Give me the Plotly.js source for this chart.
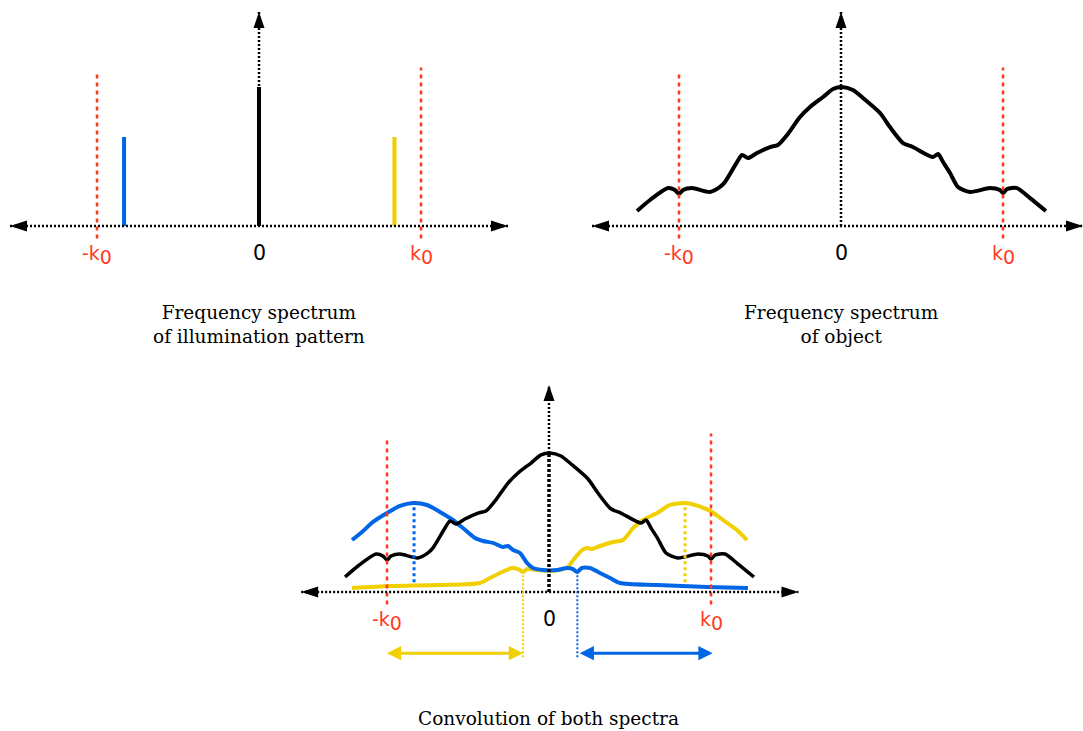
<!DOCTYPE html>
<html>
<head>
<meta charset="utf-8">
<script src="https://cdn.plot.ly/plotly-3.0.1.min.js"></script>
<style>html,body{margin:0;padding:0;background:#fff;}#chart{width:1083px;height:731px;}</style>
</head>
<body>
<div id="chart"></div>
<script>
// ---------- DATA (frequency in units of k0, amplitude relative to DC peak) ----------
// Panel 1: illumination pattern spectrum (three delta peaks)
const illumK     = [-0.833, 0, 0.836];
const illumAmp   = [0.64, 1.0, 0.64];
const illumColor = ['#0066e6', '#000000', '#f0d000'];

// Panel 2: object spectrum
const objK = [-1.259,-1.179,-1.068,-1.025,-1.0,-0.975,-0.920,-0.809,-0.747,-0.716,-0.642,-0.611,-0.574,-0.519,-0.438,-0.389,-0.333,-0.253,-0.191,-0.111,-0.049,0.006,0.074,0.136,0.241,0.302,0.383,0.444,0.568,0.599,0.630,0.673,0.722,0.796,0.920,0.981,1.0,1.025,1.086,1.167,1.265];
const objAmp = [0.108,0.187,0.273,0.259,0.230,0.259,0.273,0.245,0.281,0.317,0.460,0.511,0.489,0.525,0.568,0.583,0.655,0.784,0.856,0.928,0.986,1.0,0.978,0.921,0.813,0.712,0.597,0.568,0.496,0.518,0.460,0.381,0.281,0.245,0.273,0.259,0.237,0.266,0.273,0.201,0.108];

// Panel 3: convolution — object spectrum shifted copies
const blueK = [-1.216,-1.154,-1.086,-1.0,-0.920,-0.840,-0.753,-0.673,-0.593,-0.531,-0.457,-0.407,-0.346,-0.284,-0.253,-0.222,-0.179,-0.136,-0.099,-0.037,0.049,0.111,0.148,0.173,0.204,0.253,0.315,0.377,0.438,0.667,0.975,1.228];
const blueAmp = [0.374,0.432,0.504,0.568,0.619,0.640,0.626,0.576,0.518,0.460,0.388,0.367,0.353,0.324,0.331,0.302,0.281,0.209,0.173,0.158,0.158,0.173,0.165,0.144,0.173,0.173,0.137,0.101,0.065,0.050,0.036,0.029];
const yellowK = [-1.216,-0.981,-0.673,-0.426,-0.364,-0.302,-0.228,-0.191,-0.160,-0.136,-0.074,0.006,0.086,0.117,0.160,0.204,0.235,0.265,0.315,0.395,0.457,0.519,0.580,0.667,0.747,0.840,0.920,1.006,1.074,1.160,1.222];
const yellowAmp = [0.029,0.043,0.050,0.065,0.101,0.137,0.173,0.165,0.144,0.165,0.158,0.151,0.165,0.180,0.245,0.302,0.317,0.309,0.331,0.360,0.374,0.460,0.518,0.568,0.626,0.640,0.619,0.576,0.518,0.446,0.374];

// Markers / guides
const k0Lines     = [-1, 1];
const k0Top       = [1.108, 1.14];
const k0Bottom    = -0.09;
const tickLabels  = ['-k<sub><span style="font-size:19px">0</span></sub>', '0', 'k<sub><span style="font-size:19px">0</span></sub>'];
const tickPos     = [-1, 0, 1];
const peakK       = [-0.833, 0.84];          // dotted peak markers in panel 3
const shiftK      = [-0.16, 0.175];          // thin dotted lines in panel 3
const shiftTop    = 0.144;
const arrowY      = -0.44;
const yellowArrow = [-1.01, -0.16];
const blueArrow   = [0.18, 1.01];
const captions    = ['Frequency spectrum<br>of illumination pattern', 'Frequency spectrum<br>of object', 'Convolution of both spectra'];

// ---------- LAYOUT GEOMETRY ----------
const W = 1083, H = 731, SX = 162, SY = 139;
const panels = [
  {cx:259, base:226, left:6,   right:512,  top:0,   bottom:290, axL:-1.537, axR:1.537, axT:1.54},
  {cx:841, base:226, left:588, right:1083, top:0,   bottom:290, axL:-1.537, axR:1.494, axT:1.54},
  {cx:549, base:592, left:295, right:805,  top:370, bottom:731, axL:-1.53,  axR:1.54,  axT:1.49}
];
const layout = {
  width: W, height: H, margin:{l:0,r:0,t:0,b:0},
  paper_bgcolor:'#fff', plot_bgcolor:'rgba(0,0,0,0)',
  font:{family:'DejaVu Sans, sans-serif', size:19, color:'#000'},
  showlegend:false, shapes:[], annotations:[]
};
panels.forEach((p,i)=>{
  const n = i===0 ? '' : String(i+1);
  layout['xaxis'+n] = {domain:[p.left/W, p.right/W], range:[(p.left-p.cx)/SX,(p.right-p.cx)/SX], visible:false, anchor:'y'+n, fixedrange:true};
  layout['yaxis'+n] = {domain:[1-p.bottom/H, 1-p.top/H], range:[(p.base-p.bottom)/SY,(p.base-p.top)/SY], visible:false, anchor:'x'+n, fixedrange:true};
});

const RED = '#ff3a1f', BLUE = '#0066e6', YEL = '#f0d000';
const traces = [];
// Panel 1 bars
traces.push({type:'bar', x:illumK, y:illumAmp, width:0.025, marker:{color:illumColor, line:{width:0}}, xaxis:'x', yaxis:'y', hoverinfo:'skip'});
// Panel 2 object curve
traces.push({type:'scatter', mode:'lines', x:objK, y:objAmp, line:{color:'#000', width:4, shape:'spline', smoothing:0.7}, xaxis:'x2', yaxis:'y2', hoverinfo:'skip'});
// Panel 3 curves
traces.push({type:'scatter', mode:'lines', x:yellowK, y:yellowAmp, line:{color:YEL, width:4, shape:'spline', smoothing:0.7}, xaxis:'x3', yaxis:'y3', hoverinfo:'skip'});
traces.push({type:'scatter', mode:'lines', x:blueK, y:blueAmp, line:{color:BLUE, width:4, shape:'spline', smoothing:0.7}, xaxis:'x3', yaxis:'y3', hoverinfo:'skip'});
traces.push({type:'scatter', mode:'lines', x:objK, y:objAmp, line:{color:'#000', width:3.5, shape:'spline', smoothing:0.7}, xaxis:'x3', yaxis:'y3', hoverinfo:'skip'});

const S = layout.shapes, A = layout.annotations;
panels.forEach((p,i)=>{
  const xr = 'x'+(i===0?'':i+1), yr = 'y'+(i===0?'':i+1);
  // red dashed k0 lines
  k0Lines.forEach((k,j)=>S.push({type:'line', xref:xr, yref:yr, x0:k, x1:k, y0:k0Bottom, y1:k0Top[j], line:{color:RED, width:2.5, dash:'4px,4px'}}));
  // dotted axes
  S.push({type:'line', xref:xr, yref:yr, x0:p.axL, x1:p.axR, y0:0, y1:0, line:{color:'#000', width:2.5, dash:'2px,2px'}});
  if (i===2) {
    S.push({type:'line', xref:xr, yref:yr, x0:0, x1:0, y0:0, y1:1.0, line:{color:'#000', width:3.5, dash:'3px,2px'}});
    S.push({type:'line', xref:xr, yref:yr, x0:0, x1:0, y0:1.0, y1:p.axT, line:{color:'#000', width:2.5, dash:'2px,2px'}});
  } else {
    S.push({type:'line', xref:xr, yref:yr, x0:0, x1:0, y0:0, y1:p.axT, line:{color:'#000', width:2.5, dash:'2px,2px'}});
  }
  // arrow heads (pixel-sized triangles anchored at axis tips)
  const head = (xa, ya, path) => S.push({type:'path', xref:xr, yref:yr, xsizemode:'pixel', ysizemode:'pixel', xanchor:xa, yanchor:ya, path:path, fillcolor:'#000', line:{width:0}});
  head(p.axL, 0, 'M0,0 L17,5.5 L17,-5.5 Z');
  head(p.axR, 0, 'M0,0 L-17,5.5 L-17,-5.5 Z');
  head(0, p.axT, 'M0,0 L-5.5,-16 L5.5,-16 Z');
  // tick labels
  tickPos.forEach((k,j)=>A.push({xref:xr, yref:yr, x:k, y:-(j===1?26.5:29)/SY, text:tickLabels[j], showarrow:false, xanchor:'center', yanchor:'middle',
    font:{family:'DejaVu Sans, Verdana, sans-serif', size: j===1?20.5:19, color: j===1?'#000':RED}}));
});
// Panel 3 dotted peak markers
peakK.forEach((k,j)=>S.push({type:'line', xref:'x3', yref:'y3', x0:k, x1:k, y0:0.07, y1:0.64, line:{color:j===0?BLUE:YEL, width:3, dash:'3px,3px'}}));
// Thin dotted shift markers
shiftK.forEach((k,j)=>S.push({type:'line', xref:'x3', yref:'y3', x0:k, x1:k, y0:arrowY-0.03, y1:shiftTop, line:{color:j===0?YEL:BLUE, width:2, dash:'2px,2px'}}));
// Double arrows
[[yellowArrow,YEL],[blueArrow,BLUE]].forEach(([r,c])=>A.push({xref:'x3', yref:'y3', axref:'x3', ayref:'y3', x:r[1], y:arrowY, ax:r[0], ay:arrowY, text:'', showarrow:true, arrowhead:2, startarrowhead:2, arrowside:'end+start', arrowsize:0.95, startarrowsize:0.95, arrowwidth:3, arrowcolor:c, standoff:0, startstandoff:0}));
// Captions
const capPos = [[259,324.5],[841,324.5],[548,718]];
captions.forEach((t,i)=>A.push({xref:'paper', yref:'paper', x:capPos[i][0]/W, y:1-capPos[i][1]/H, text:t, showarrow:false, xanchor:'center', yanchor:'middle', align:'center',
  font:{family:'DejaVu Serif, serif', size:18.5, color:'#000'}}));

Plotly.newPlot('chart', traces, layout, {displayModeBar:false});
</script>
</body>
</html>
